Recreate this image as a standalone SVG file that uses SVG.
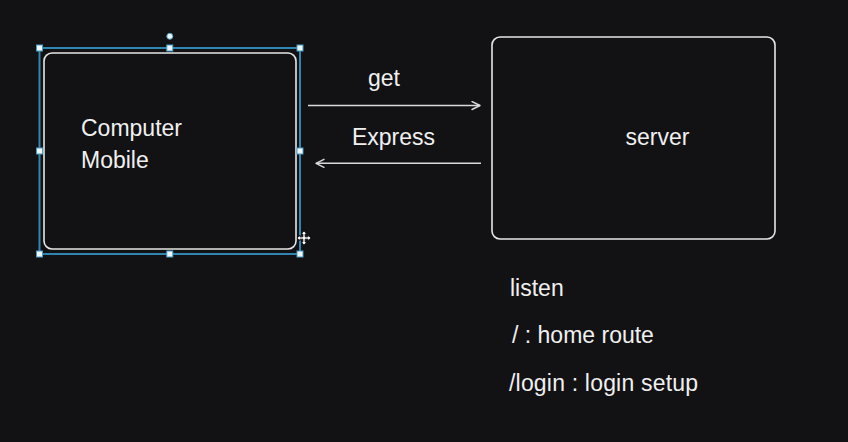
<svg xmlns="http://www.w3.org/2000/svg" width="848" height="442" viewBox="0 0 848 442">
  <defs>
    <style>
      .box { fill: none; stroke: #e6e6e6; stroke-width: 1.6; }
      .lbl { font-family: "Liberation Sans", Arial, sans-serif; font-size: 23px; fill: #f0f0f0; }
      .wire { fill: none; stroke: #d9d9d9; stroke-width: 1.6; }
      .sel { fill: none; stroke: #2f86b0; stroke-width: 2; }
      .handle { fill: #eef8fc; stroke: #4a9cc4; stroke-width: 1; }
    </style>
    <marker id="chev" viewBox="0 0 10 10" refX="9" refY="5" markerWidth="10" markerHeight="10" markerUnits="userSpaceOnUse" orient="auto">
      <path d="M1,1 L9,5 L1,9" fill="none" stroke="#d9d9d9" stroke-width="1.4" stroke-linecap="round" stroke-linejoin="round"/>
    </marker>
  </defs>

  <rect width="848" height="442" fill="#121214"/>

  <!-- client node, shown selected -->
  <g id="client">
    <rect class="box" x="44" y="53" width="252" height="196" rx="8"/>
    <text class="lbl" x="81" y="136">Computer</text>
    <text class="lbl" x="81" y="168">Mobile</text>
    <g id="selection">
      <rect class="sel" x="39.5" y="48" width="260.5" height="206"/>
      <rect class="handle" x="36.5" y="45" width="6" height="6"/>
      <rect class="handle" x="166.8" y="45" width="6" height="6"/>
      <rect class="handle" x="297" y="45" width="6" height="6"/>
      <rect class="handle" x="36.5" y="148" width="6" height="6"/>
      <rect class="handle" x="297" y="148" width="6" height="6"/>
      <rect class="handle" x="36.5" y="251" width="6" height="6"/>
      <rect class="handle" x="166.8" y="251" width="6" height="6"/>
      <rect class="handle" x="297" y="251" width="6" height="6"/>
      <circle class="handle" cx="169.8" cy="36.3" r="3"/>
      <!-- move cursor -->
      <g transform="translate(304 238) scale(1.15)" fill="#ffffff" stroke="#111" stroke-width="0.8">
        <path d="M0,-6 L2.5,-3.5 L1,-3.5 L1,-1 L3.5,-1 L3.5,-2.5 L6,0 L3.5,2.5 L3.5,1 L1,1 L1,3.5 L2.5,3.5 L0,6 L-2.5,3.5 L-1,3.5 L-1,1 L-3.5,1 L-3.5,2.5 L-6,0 L-3.5,-2.5 L-3.5,-1 L-1,-1 L-1,-3.5 L-2.5,-3.5 Z"/>
      </g>
    </g>
  </g>

  <!-- server node -->
  <g id="server">
    <rect class="box" x="492" y="37" width="283" height="202" rx="8"/>
    <text class="lbl" x="657.5" y="145" text-anchor="middle">server</text>
  </g>

  <!-- connectors -->
  <g id="connectors">
    <line class="wire" x1="308" y1="105.5" x2="480" y2="105.5" marker-end="url(#chev)"/>
    <text class="lbl" x="384" y="86" text-anchor="middle">get</text>
    <line class="wire" x1="481" y1="163.3" x2="316" y2="163.3" marker-end="url(#chev)"/>
    <text class="lbl" x="393.5" y="145" text-anchor="middle">Express</text>
  </g>

  <!-- notes -->
  <g id="notes">
    <text class="lbl" x="510" y="296">listen</text>
    <text class="lbl" x="512" y="343">/ : home route</text>
    <text class="lbl" x="509" y="391" textLength="189">/login : login setup</text>
  </g>
</svg>
